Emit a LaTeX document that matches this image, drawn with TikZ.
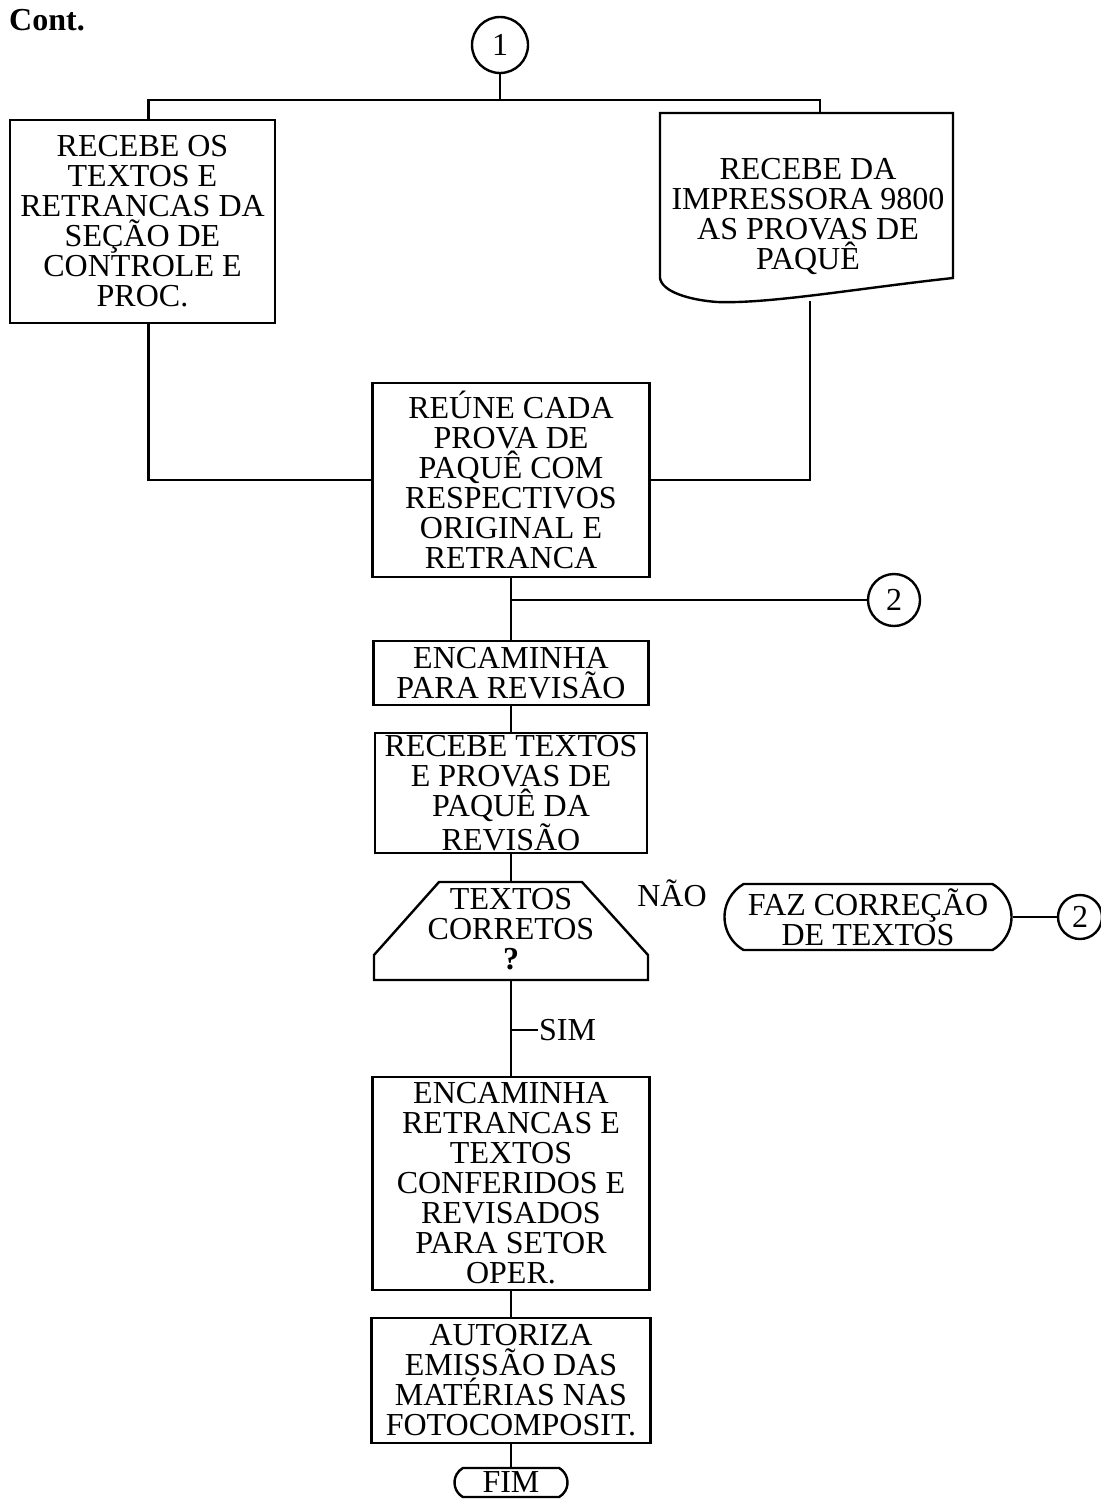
\documentclass[tikz,border=0pt]{standalone}
\usepackage{fontspec}
\setmainfont{Liberation Serif}
\usetikzlibrary{shapes.misc}
\begin{document}
\begin{tikzpicture}[x=0.5pt,y=-0.5pt,line width=1.2pt,
  every node/.style={font=\fontsize{16}{15}\selectfont,align=center,inner sep=0pt},
  procbox/.style={draw,rectangle},
  conncirc/.style={draw,circle},
  termbox/.style={draw,rounded rectangle,rounded rectangle arc length=120},
  flow/.style={line width=1.2pt}]
\useasboundingbox (0,0) rectangle (1101,1500);

% title
\node[anchor=west,font=\fontsize{16}{15}\selectfont\bfseries] (cont) at (8,20) {Cont.};

% connector 1
\node[conncirc,minimum size=28pt] (c1) at (500,45) {1};

% left process box
\node[procbox,minimum width=132.5pt,minimum height=101.5pt] (box1) at (142.5,221.5)
  {RECEBE OS\\TEXTOS E\\RETRANCAS DA\\SEÇÃO DE\\CONTROLE E\\PROC.};

% document shape
\draw (660,113) -- (953,113) -- (953,278)
  .. controls (860,288) and (770,304) .. (717,302)
  .. controls (690,300) and (662,292) .. (660,278) -- cycle;
\node (doc) at (808,216) {RECEBE DA\\IMPRESSORA 9800\\AS PROVAS DE\\PAQUÊ};
\coordinate (docT) at (820,113);
\coordinate (docB) at (810,301);

% gather box
\node[procbox,minimum width=138.5pt,minimum height=97pt] (box3) at (511,480)
  {REÚNE CADA\\PROVA DE\\PAQUÊ COM\\RESPECTIVOS\\ORIGINAL E\\RETRANCA};

\node[conncirc,minimum size=26pt] (c2a) at (894,600) {2};

\node[procbox,minimum width=137.5pt,minimum height=32pt] (box4) at (511,673)
  {ENCAMINHA\\PARA REVISÃO};

\node[procbox,minimum width=136pt,minimum height=60pt] (box5) at (511,793)
  {RECEBE TEXTOS\\E PROVAS DE\\PAQUÊ DA\\REVISÃO};

% decision trapezoid
\draw (439,882) -- (582,882) -- (648,955) -- (648,980) -- (374,980) -- (374,955) -- cycle;
\node (dec) at (511,929) {TEXTOS\\CORRETOS\\\textbf{?}};
\coordinate (decT) at (511,882);
\coordinate (decB) at (511,980);

\node (nao) at (672,893) {NÃO};
\node[termbox,minimum width=143.5pt,minimum height=33pt] (faz) at (868,917)
  {FAZ CORREÇÃO\\DE TEXTOS};
\node[conncirc,minimum size=22pt] (c2b) at (1080,917) {2};

\node[anchor=west] (sim) at (538,1030) {SIM};
\coordinate (s1) at (511,1030);

\node[procbox,minimum width=138.5pt,minimum height=106.5pt] (box6) at (511,1183.5)
  {ENCAMINHA\\RETRANCAS E\\TEXTOS\\CONFERIDOS E\\REVISADOS\\PARA SETOR\\OPER.};

\node[procbox,minimum width=139.5pt,minimum height=62.5pt] (box7) at (511,1380.5)
  {AUTORIZA\\EMISSÃO DAS\\MATÉRIAS NAS\\FOTOCOMPOSIT.};

\node[termbox,minimum width=56.5pt,minimum height=14.5pt] (fim) at (511,1482.5) {FIM};

% connectors
\coordinate (j1) at (500,100);
\coordinate (j2) at (511,600);
\draw[flow] (c1.south) -- (j1);
\draw[flow] ([xshift=3pt]box1.north) |- (j1) -| (docT);
\draw[flow] ([xshift=3pt]box1.south) |- (box3.west);
\draw[flow] (docB) |- (box3.east);
\draw[flow] (box3.south) -- (box4.north);
\draw[flow] (j2) -- (c2a.west);
\draw[flow] (box4.south) -- (box5.north);
\draw[flow] (box5.south) -- (decT);
\draw[flow] (decB) -- (box6.north);
\draw[flow] (s1) -- (sim.west);
\draw[flow] (faz.east) -- (c2b.west);
\draw[flow] (box6.south) -- (box7.north);
\draw[flow] (box7.south) -- (fim.north);
\end{tikzpicture}
\end{document}
